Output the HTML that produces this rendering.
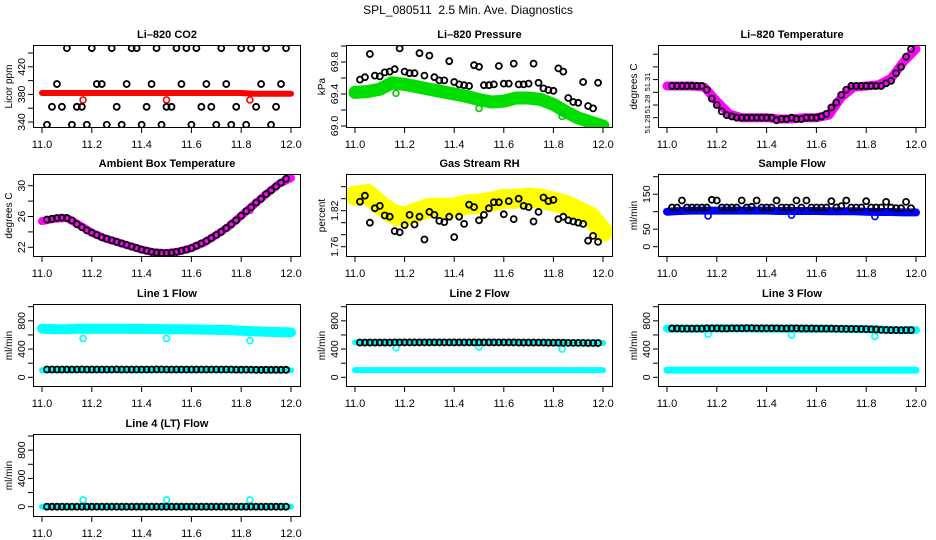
<!DOCTYPE html>
<html><head><meta charset="utf-8"><title>SPL_080511 Diagnostics</title>
<style>html,body{margin:0;padding:0;background:#fff}svg{display:block;font-family:"Liberation Sans",sans-serif}</style>
</head><body>
<svg id="chart" width="936" height="540" viewBox="0 0 936 540" xmlns="http://www.w3.org/2000/svg">
<rect width="936" height="540" fill="#fff"/>
<text x="468" y="14" text-anchor="middle" font-size="12" style="white-space:pre">SPL_080511  2.5 Min. Ave. Diagnostics</text>
</svg>
<script>
// ---- data ----
const T = [11.02,11.04,11.06,11.08,11.10,11.12,11.14,11.16,11.18,11.20,11.22,11.24,11.26,11.28,11.30,11.32,11.34,11.36,11.38,11.40,11.42,11.44,11.46,11.48,11.50,11.52,11.54,11.56,11.58,11.60,11.62,11.64,11.66,11.68,11.70,11.72,11.74,11.76,11.78,11.80,11.82,11.84,11.86,11.88,11.90,11.92,11.94,11.96,11.98];
const BT = [11.00,11.05,11.10,11.15,11.20,11.25,11.30,11.35,11.40,11.45,11.50,11.55,11.60,11.65,11.70,11.75,11.80,11.85,11.90,11.95,12.00];
const OT = [11.165,11.5,11.835];
const xTicks = [11.0,11.2,11.4,11.6,11.8,12.0];
const xTickLabels = ["11.0","11.2","11.4","11.6","11.8","12.0"];

const co2Black = [336,362,395,362,447,336,362,362,336,447,395,395,336,447,362,336,395,447,447,336,362,395,447,336,362,362,447,395,447,336,447,362,395,362,336,447,395,336,362,447,336,447,362,395,447,336,362,395,447];
const co2Band = [382,382,382,382,382,382,382,382,382,382,382,382,382,382,382,382,382,381,381,381,381];
const co2Out = [372,372,372];

const presBlack = [69.58,69.61,69.90,69.63,69.62,69.67,69.68,69.71,69.97,69.68,69.66,69.66,69.91,69.63,69.88,69.61,69.57,69.57,69.81,69.55,69.52,69.51,69.50,69.76,69.74,69.51,69.51,69.52,69.75,69.53,69.53,69.78,69.52,69.52,69.53,69.78,69.54,69.47,69.45,69.44,69.72,69.68,69.35,69.30,69.29,69.55,69.25,69.22,69.54];
const presBand = [69.42,69.43,69.46,69.54,69.52,69.49,69.46,69.43,69.40,69.37,69.33,69.30,69.31,69.35,69.35,69.33,69.27,69.18,69.10,69.05,69.00];
const presOut = [69.41,69.22,69.12];

const tempBlack = [51.295,51.295,51.295,51.295,51.295,51.295,51.295,51.292,51.285,51.280,51.275,51.272,51.271,51.270,51.270,51.270,51.270,51.270,51.270,51.270,51.270,51.268,51.269,51.269,51.270,51.269,51.269,51.270,51.270,51.270,51.271,51.273,51.278,51.282,51.288,51.292,51.295,51.295,51.295,51.295,51.295,51.295,51.295,51.297,51.299,51.305,51.310,51.318,51.324];
const tempBand = [51.295,51.295,51.295,51.294,51.283,51.273,51.270,51.270,51.270,51.269,51.269,51.270,51.270,51.272,51.286,51.294,51.295,51.296,51.301,51.314,51.324];
const tempOut = [51.291,51.269,51.295];

const ambBlack = [25.6,25.7,25.8,25.85,25.8,25.5,25.0,24.6,24.2,23.9,23.6,23.3,23.1,22.9,22.7,22.5,22.3,22.1,21.9,21.7,21.55,21.4,21.3,21.25,21.25,21.3,21.4,21.55,21.7,21.9,22.2,22.5,22.8,23.2,23.6,24.0,24.5,25.0,25.5,26.1,26.7,27.2,27.8,28.3,28.9,29.4,29.9,30.4,30.9];
const ambBand = [25.4,25.7,25.8,24.9,23.9,23.2,22.7,22.2,21.7,21.35,21.25,21.45,21.9,22.6,23.6,24.7,26.1,27.5,28.9,30.2,31.0];
const ambOut = [24.6,21.25,26.8];

const rhBlack = [1.835,1.845,1.800,1.824,1.828,1.812,1.810,1.786,1.784,1.796,1.813,1.797,1.810,1.772,1.818,1.813,1.803,1.801,1.810,1.776,1.810,1.798,1.830,1.826,1.804,1.813,1.824,1.834,1.834,1.814,1.836,1.806,1.840,1.828,1.826,1.802,1.818,1.842,1.836,1.838,1.806,1.810,1.804,1.802,1.800,1.798,1.770,1.778,1.768];
const rhBand = [1.845,1.848,1.830,1.815,1.810,1.818,1.825,1.825,1.825,1.830,1.832,1.835,1.840,1.840,1.842,1.840,1.835,1.830,1.820,1.810,1.785];
const rhOut = [1.80,1.82,1.82];

const sfBlack = [112,112,132,112,112,112,112,112,134,132,112,112,112,112,132,112,114,132,112,112,112,132,112,112,112,132,112,132,112,112,112,112,130,112,116,132,112,112,112,130,112,112,112,128,112,110,110,128,110];
const sfBand = [100,102,103,103,103,103,103,103,103,102,102,102,102,101,101,101,100,99,99,98,98];
const sfOut = [88,90,86];

const l1Black = [110,110,110,110,110,110,110,112,110,110,110,110,110,110,112,110,110,110,110,110,110,110,112,112,110,110,110,110,110,110,110,110,110,110,110,110,110,110,108,108,108,108,106,106,106,106,106,106,106];
const l1Upper = [690,680,682,690,688,688,688,686,686,684,682,680,678,676,672,668,660,652,645,640,636];
const l1Lower = [100,100,100,100,100,100,100,100,100,100,100,100,100,100,100,100,100,100,100,100,100];
const l1Out = [550,550,520];

const l2Black = [492,492,492,492,492,492,492,494,494,494,494,494,494,494,494,494,494,494,494,494,494,494,494,494,494,494,494,494,494,494,494,494,492,492,492,492,492,492,490,490,490,490,488,488,488,488,486,486,486];
const l2Upper = [494,494,494,494,494,494,494,494,494,494,494,494,494,494,494,492,490,490,488,486,486];
const l2Lower = [102,102,102,102,102,102,102,102,102,102,102,102,102,102,102,102,102,102,102,102,102];
const l2Out = [420,430,400];

const l3Black = [692,692,690,690,690,690,690,694,694,694,692,692,694,694,694,696,696,694,694,694,694,694,692,692,694,694,692,692,692,690,690,690,690,688,688,686,686,684,684,682,680,678,672,670,668,668,666,668,668];
const l3Upper = [690,690,688,690,692,692,692,690,690,690,690,688,688,688,686,684,682,678,672,668,668];
const l3Lower = [102,102,102,102,102,102,102,102,102,102,102,102,102,102,102,102,102,102,102,102,102];
const l3Out = [610,600,580];

const l4Black = [0,0,0,0,0,0,0,0,0,0,0,0,0,0,0,0,0,0,0,0,0,0,0,0,0,0,0,0,0,0,0,0,0,0,0,0,0,0,0,0,0,0,0,0,0,0,0,0,0];
const l4Band = [0,0,0,0,0,0,0,0,0,0,0,0,0,0,0,0,0,0,0,0,0];
const l4Out = [96,96,96];

// ---- layout ----
const svg = document.getElementById('chart');
const NS = 'http://www.w3.org/2000/svg';
const colX11 = [42,355,667], colW = [249,248,249];
const rowTop = [45,174,304,434], boxH = 83;
function mk(tag, attrs, parent){
  const e = document.createElementNS(NS, tag);
  for (const k in attrs) e.setAttribute(k, attrs[k]);
  (parent||svg).appendChild(e);
  return e;
}
const panels = [
 {c:0,r:0,name:'co2',title:'Li\u2013820 CO2',yl:'Licor ppm',v0:340,p0:77,v1:440,p1:8,ticks:[340,360,380,400,420,440],labels:['340','','380','','420',''],
  bands:[{d:co2Band,col:'#ff0000',w:6}],black:co2Black,out:co2Out,oc:'#ff0000'},
 {c:1,r:0,name:'pressure',title:'Li\u2013820 Pressure',yl:'kPa',v0:69.0,p0:81,v1:70.0,p1:1,ticks:[69.0,69.2,69.4,69.6,69.8,70.0],labels:['69.0','','69.4','','69.8',''],
  bands:[{d:presBand,col:'#00dd00',w:13}],black:presBlack,out:presOut,oc:'#00cc00'},
 {c:2,r:0,name:'temperature',title:'Li\u2013820 Temperature',yl:'degrees C',v0:51.27,p0:72.7,v1:51.32,p1:9.2,ticks:[51.27,51.28,51.29,51.30,51.31,51.32],labels:['','','','','',''],
  extra:[['51.28',79,7.5],['51.28',59,7.5],['51.31',37,7.5]],
  bands:[{d:tempBand,col:'#ff00ff',w:9}],black:tempBlack,out:tempOut,oc:'#ff00ff'},
 {c:0,r:1,name:'ambient',title:'Ambient Box Temperature',yl:'degrees C',v0:22,p0:73.3,v1:30,p1:11.7,ticks:[22,24,26,28,30],labels:['22','','26','','30'],
  bands:[{d:ambBand,col:'#ff00ff',w:8}],black:ambBlack,out:ambOut,oc:'#ff00ff'},
 {c:1,r:1,name:'rh',title:'Gas Stream RH',yl:'percent',v0:1.76,p0:72.7,v1:1.86,p1:12.7,ticks:[1.76,1.78,1.80,1.82,1.84,1.86],labels:['1.76','','','1.82','',''],
  bands:[{d:rhBand,col:'#ffff00',w:20}],black:rhBlack,out:rhOut,oc:'#ffff00'},
 {c:2,r:1,name:'sample-flow',title:'Sample Flow',yl:'ml/min',v0:0,p0:72.7,v1:200,p1:2.7,ticks:[0,50,100,150,200],labels:['0','50','','150',''],
  bands:[{d:sfBand,col:'#0000ff',w:8}],black:sfBlack,out:sfOut,oc:'#0000ff'},
 {c:0,r:2,name:'line1',title:'Line 1 Flow',yl:'ml/min',v0:0,p0:73.3,v1:1000,p1:2.7,ticks:[0,200,400,600,800,1000],labels:['0','','400','','800',''],
  bands:[{d:l1Upper,col:'#00ffff',w:10},{d:l1Lower,col:'#00ffff',w:6}],black:l1Black,out:l1Out,oc:'#00ffff'},
 {c:1,r:2,name:'line2',title:'Line 2 Flow',yl:'ml/min',v0:0,p0:73.3,v1:1000,p1:2.7,ticks:[0,200,400,600,800,1000],labels:['0','','400','','800',''],
  bands:[{d:l2Upper,col:'#00ffff',w:6},{d:l2Lower,col:'#00ffff',w:6}],black:l2Black,out:l2Out,oc:'#00ffff'},
 {c:2,r:2,name:'line3',title:'Line 3 Flow',yl:'ml/min',v0:0,p0:73.3,v1:1000,p1:2.7,ticks:[0,200,400,600,800,1000],labels:['0','','400','','800',''],
  bands:[{d:l3Upper,col:'#00ffff',w:8},{d:l3Lower,col:'#00ffff',w:7}],black:l3Black,out:l3Out,oc:'#00ffff'},
 {c:0,r:3,name:'line4',title:'Line 4 (LT) Flow',yl:'ml/min',v0:0,p0:72.7,v1:1000,p1:2,ticks:[0,200,400,600,800,1000],labels:['0','','400','','800',''],
  bands:[{d:l4Band,col:'#00ffff',w:6}],black:l4Black,out:l4Out,oc:'#00ffff'}
];

panels.forEach(P => {
  const top = rowTop[P.r], x11 = colX11[P.c], w = colW[P.c];
  const left = x11 - 9, right = x11 + w + 10, bottom = top + boxH;
  const X = t => x11 + (t - 11) * w;
  const Y = v => top + P.p0 + (v - P.v0) * (P.p1 - P.p0) / (P.v1 - P.v0);
  const g = mk('g', {});
  
  
  const clipId = 'clip-' + P.name;
  const cp = mk('clipPath', {id: clipId}, g);
  mk('rect', {x:left, y:top, width:right-left, height:boxH}, cp);
  const plot = mk('g', {'clip-path':'url(#'+clipId+')'}, g);
  
  
  P.bands.forEach((b, bi) => {
    const pts = b.d.map((v, i) => X(BT[i]).toFixed(1) + ',' + Y(v).toFixed(1)).join(' ');
    const pl = mk('polyline', {points: pts, fill:'none', stroke:b.col, 'stroke-width':b.w, 'stroke-linecap':'round', 'stroke-linejoin':'round'}, plot);
    
    
  });
  P.out.forEach((v, i) => {
    const c = mk('circle', {cx:X(OT[i]), cy:Y(v), r:3, fill:'none', stroke:P.oc, 'stroke-width':1.6}, plot);
    
    
  });
  P.black.forEach((v, i) => {
    const c = mk('circle', {cx:X(T[i]), cy:Y(v), r:3, fill:'none', stroke:'#000', 'stroke-width':1.8}, plot);
    
    
  });
  const box = mk('rect', {x:left+0.5, y:top+0.5, width:right-left-1, height:boxH-1, fill:'none', stroke:'#000', 'stroke-width':1}, g);
  
  
  const tt = mk('text', {x:(left+right)/2, y:top-7, 'text-anchor':'middle', 'font-size':11, 'font-weight':'bold'}, g);
  tt.textContent = P.title;
  
  
  xTicks.forEach((t, i) => {
    const x = X(t);
    mk('line', {x1:x, x2:x, y1:bottom, y2:bottom+5, stroke:'#000', 'stroke-width':1}, g);
    const lt = mk('text', {x:x, y:bottom+20, 'text-anchor':'middle', 'font-size':11}, g);
    lt.textContent = xTickLabels[i];
    
    
  });
  P.ticks.forEach((v, i) => {
    const y = Y(v);
    mk('line', {x1:left-5, x2:left, y1:y, y2:y, stroke:'#000', 'stroke-width':1}, g);
    if (P.labels[i]) {
      const lt = mk('text', {x:left-5, y:y, 'text-anchor':'middle', 'font-size':10.5, transform:'rotate(-90 '+(left-5)+' '+y+')', dy:'-3'}, g);
      lt.textContent = P.labels[i];
      
      
    }
  });
  (P.extra || []).forEach(e => {
    const y = top + e[1];
    const lt = mk('text', {x:left-5, y:y, 'text-anchor':'middle', 'font-size':e[2], transform:'rotate(-90 '+(left-5)+' '+y+')', dy:'-3'}, g);
    lt.textContent = e[0];
    
    
  });
  const ym = top + boxH/2;
  const yt = mk('text', {x:left-21, y:ym, 'text-anchor':'middle', 'font-size':10, transform:'rotate(-90 '+(left-21)+' '+ym+')'}, g);
  yt.textContent = P.yl;
  
  
});
</script>
</body></html>
